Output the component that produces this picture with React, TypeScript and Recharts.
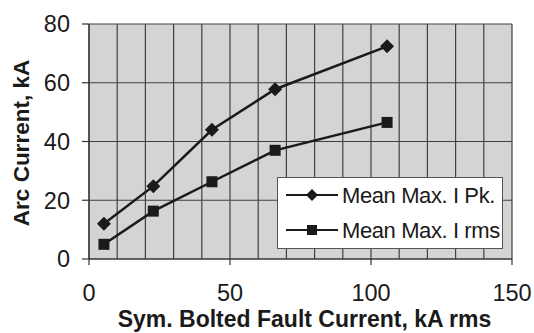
import React from 'react';
import { LineChart, Line, XAxis, YAxis, CartesianGrid, Legend, Label } from 'recharts';

const faultCurrent = [5.3, 22.8, 43.6, 66, 105.7];
const meanMaxIPk = [12, 24.8, 44, 57.8, 72.4];
const meanMaxIrms = [5, 16.3, 26.3, 37, 46.5];
const xTicks = [0, 10, 20, 30, 40, 50, 60, 70, 80, 90, 100, 110, 120, 130, 140, 150];
const yTicks = [0, 20, 40, 60, 80];
const seriesNames = ['Mean Max. I Pk.', 'Mean Max. I rms'];

const data = faultCurrent.map((x, i) => ({ x, pk: meanMaxIPk[i], rms: meanMaxIrms[i] }));

const FONT = '"Liberation Sans", Arial, sans-serif';
const INK = '#1a1a1a';

const Diamond = ({ cx, cy, size = 7 }: any) => (
  <polygon points={`${cx},${cy - size} ${cx + size},${cy} ${cx},${cy + size} ${cx - size},${cy}`} fill={INK} />
);
const Square = ({ cx, cy, size = 5.5 }: any) => (
  <rect x={cx - size} y={cy - size} width={size * 2} height={size * 2} fill={INK} />
);

const XTick = ({ x, y, payload }: any) => {
  const v = payload.value;
  if (v % 50 !== 0) return <g />;
  return (
    <g>
      <line x1={x} x2={x} y1={y} y2={y + 6} stroke="#333" strokeWidth={1.2} />
      <text x={x} y={y + 42} textAnchor="middle" fontSize={23.5} fontFamily={FONT} fill={INK}>
        {v}
      </text>
    </g>
  );
};

const LegendBox = () => (
  <div style={{ width: 226, height: 72, boxSizing: 'border-box', border: '1px solid #555', background: '#fff' }}>
    <svg width={224} height={70} style={{ display: 'block' }}>
      {seriesNames.map((name, i) => {
        const cy = 17 + i * 35;
        return (
          <g key={name}>
            <line x1={8} x2={60} y1={cy} y2={cy} stroke={INK} strokeWidth={2} />
            {i === 0 ? <Diamond cx={34} cy={cy} size={6} /> : <Square cx={34} cy={cy} size={5} />}
            <text x={64} y={cy + 7.5} fontSize={22} letterSpacing={-0.4} fontFamily={FONT} fill={INK}>
              {name}
            </text>
          </g>
        );
      })}
    </svg>
  </div>
);

export default function App() {
  return (
    <div>
      <style>{'body{margin:0}'}</style>
      <LineChart width={534} height={333} data={data} margin={{ top: 24, right: 22, left: 0, bottom: 0 }}>
        <CartesianGrid fill="#d4d4d4" stroke="#404040" strokeWidth={1.2} />
        <XAxis
          dataKey="x"
          type="number"
          domain={[0, 150]}
          ticks={xTicks}
          interval={0}
          height={74}
          tickSize={0}
          tickMargin={0}
          tickLine={false}
          tick={<XTick />}
          axisLine={{ stroke: '#333', strokeWidth: 1.2 }}
        >
          <Label
            value="Sym. Bolted Fault Current, kA rms"
            position="insideBottom"
            offset={6}
            dx={4}
            style={{ fontSize: 23, fontWeight: 'bold', fontFamily: FONT, fill: INK }}
          />
        </XAxis>
        <YAxis
          type="number"
          domain={[0, 80]}
          ticks={yTicks}
          width={89}
          tickSize={7}
          tickMargin={12}
          tickLine={{ stroke: '#333', strokeWidth: 1.2 }}
          axisLine={{ stroke: '#333', strokeWidth: 1.2 }}
          tick={{ fontSize: 23.5, fontFamily: FONT, fill: INK }}
        >
          <Label
            content={() => (
              <text
                x={29}
                y={143}
                transform="rotate(-90 29 143)"
                textAnchor="middle"
                fontSize={22.5}
                fontWeight="bold"
                fontFamily={FONT}
                fill={INK}
              >
                Arc Current, kA
              </text>
            )}
          />
        </YAxis>
        <Legend
          layout="vertical"
          align="center"
          verticalAlign="middle"
          content={() => <LegendBox />}
          wrapperStyle={{ left: 277, top: 177, width: 226, height: 72 }}
        />
        <Line
          dataKey="pk"
          name={seriesNames[0]}
          stroke={INK}
          strokeWidth={2.5}
          isAnimationActive={false}
          dot={(p: any) => <Diamond key={`pk-${p.index}`} cx={p.cx} cy={p.cy} size={7} />}
        />
        <Line
          dataKey="rms"
          name={seriesNames[1]}
          stroke={INK}
          strokeWidth={2.5}
          isAnimationActive={false}
          dot={(p: any) => <Square key={`rms-${p.index}`} cx={p.cx} cy={p.cy} size={5.5} />}
        />
      </LineChart>
    </div>
  );
}
